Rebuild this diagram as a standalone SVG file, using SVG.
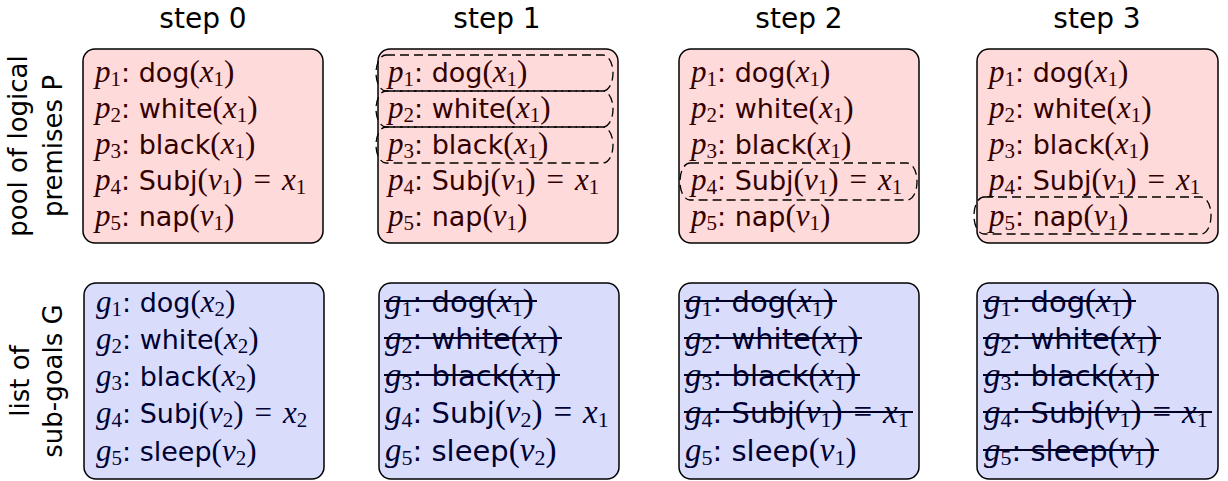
<svg xmlns="http://www.w3.org/2000/svg" width="1228" height="481" viewBox="0 0 1228 481">
  <style>
    .hdr { font-family: "DejaVu Sans", sans-serif; font-size: 28px; fill: #000; text-anchor: middle; }
    .side { font-family: "DejaVu Sans", sans-serif; font-size: 26px; fill: #000; text-anchor: middle; }
    .pbox { fill: #ffdada; stroke: #000; stroke-width: 1.5; }
    .gbox { fill: #d9ddfb; stroke: #000; stroke-width: 1.5; }
    .ptxt { fill: #330000; }
    .gtxt { fill: #000033; }
    .sf { font-family: "DejaVu Sans", sans-serif; font-size: 27px; }
    .mi { font-family: "Liberation Serif", serif; font-style: italic; font-size: 31px; }
    .rm { font-family: "Liberation Serif", serif; font-size: 31px; }
    .sb { font-family: "Liberation Serif", serif; font-size: 21px; }
    .big .sf { font-size: 29px; }
    .big .mi, .big .rm { font-size: 33px; }
    .big .sb { font-size: 22px; }
    .sel { fill: none; stroke: #000; stroke-width: 1.3; stroke-dasharray: 9 5; }
    .strike { stroke: #000022; stroke-width: 1.8; }
  </style>

  <!-- column headers -->
  <g id="headers">
    <text class="hdr" x="203" y="28">step 0</text>
    <text class="hdr" x="497" y="28">step 1</text>
    <text class="hdr" x="799" y="28">step 2</text>
    <text class="hdr" x="1097" y="28">step 3</text>
  </g>

  <!-- row labels -->
  <g id="row-labels">
    <text class="side" transform="translate(27,146) rotate(-90)">pool of logical</text>
    <text class="side" transform="translate(62,146) rotate(-90)">premises P</text>
    <text class="side" transform="translate(29,381) rotate(-90)">list of</text>
    <text class="side" transform="translate(62,381) rotate(-90)">sub-goals G</text>
  </g>

  <!-- premises, step 0 -->
  <g id="premises-0" transform="translate(83,49)">
    <rect class="pbox" x="0" y="0" width="240" height="194" rx="12"/>
    <g class="ptxt">
      <text x="12" y="33"><tspan class="mi">p</tspan><tspan class="sb" dy="4">1</tspan><tspan class="sf" dy="-4">: dog</tspan><tspan class="rm">(</tspan><tspan class="mi">x</tspan><tspan class="sb" dy="4">1</tspan><tspan class="rm" dy="-4">)</tspan></text>
      <text x="12" y="69"><tspan class="mi">p</tspan><tspan class="sb" dy="4">2</tspan><tspan class="sf" dy="-4">: white</tspan><tspan class="rm">(</tspan><tspan class="mi">x</tspan><tspan class="sb" dy="4">1</tspan><tspan class="rm" dy="-4">)</tspan></text>
      <text x="12" y="105"><tspan class="mi">p</tspan><tspan class="sb" dy="4">3</tspan><tspan class="sf" dy="-4">: black</tspan><tspan class="rm">(</tspan><tspan class="mi">x</tspan><tspan class="sb" dy="4">1</tspan><tspan class="rm" dy="-4">)</tspan></text>
      <text x="12" y="141"><tspan class="mi">p</tspan><tspan class="sb" dy="4">4</tspan><tspan class="sf" dy="-4">: Subj</tspan><tspan class="rm">(</tspan><tspan class="mi">v</tspan><tspan class="sb" dy="4">1</tspan><tspan class="rm" dy="-4">)</tspan><tspan class="rm" dx="11">=</tspan><tspan class="mi" dx="11">x</tspan><tspan class="sb" dy="4">1</tspan></text>
      <text x="12" y="177"><tspan class="mi">p</tspan><tspan class="sb" dy="4">5</tspan><tspan class="sf" dy="-4">: nap</tspan><tspan class="rm">(</tspan><tspan class="mi">v</tspan><tspan class="sb" dy="4">1</tspan><tspan class="rm" dy="-4">)</tspan></text>
    </g>
  </g>

  <!-- premises, step 1 -->
  <g id="premises-1" transform="translate(378,49)">
    <rect class="pbox" x="0" y="0" width="240" height="194" rx="12"/>
    <g class="ptxt">
      <text x="10" y="33"><tspan class="mi">p</tspan><tspan class="sb" dy="4">1</tspan><tspan class="sf" dy="-4">: dog</tspan><tspan class="rm">(</tspan><tspan class="mi">x</tspan><tspan class="sb" dy="4">1</tspan><tspan class="rm" dy="-4">)</tspan></text>
      <text x="10" y="69"><tspan class="mi">p</tspan><tspan class="sb" dy="4">2</tspan><tspan class="sf" dy="-4">: white</tspan><tspan class="rm">(</tspan><tspan class="mi">x</tspan><tspan class="sb" dy="4">1</tspan><tspan class="rm" dy="-4">)</tspan></text>
      <text x="10" y="105"><tspan class="mi">p</tspan><tspan class="sb" dy="4">3</tspan><tspan class="sf" dy="-4">: black</tspan><tspan class="rm">(</tspan><tspan class="mi">x</tspan><tspan class="sb" dy="4">1</tspan><tspan class="rm" dy="-4">)</tspan></text>
      <text x="10" y="141"><tspan class="mi">p</tspan><tspan class="sb" dy="4">4</tspan><tspan class="sf" dy="-4">: Subj</tspan><tspan class="rm">(</tspan><tspan class="mi">v</tspan><tspan class="sb" dy="4">1</tspan><tspan class="rm" dy="-4">)</tspan><tspan class="rm" dx="11">=</tspan><tspan class="mi" dx="11">x</tspan><tspan class="sb" dy="4">1</tspan></text>
      <text x="10" y="177"><tspan class="mi">p</tspan><tspan class="sb" dy="4">5</tspan><tspan class="sf" dy="-4">: nap</tspan><tspan class="rm">(</tspan><tspan class="mi">v</tspan><tspan class="sb" dy="4">1</tspan><tspan class="rm" dy="-4">)</tspan></text>
    </g>
    <rect class="sel" x="-2" y="6" width="237" height="36" rx="10" ry="18"/>
    <rect class="sel" x="-2" y="42" width="237" height="36" rx="10" ry="18"/>
    <rect class="sel" x="-2" y="78" width="237" height="36" rx="10" ry="18"/>
  </g>

  <!-- premises, step 2 -->
  <g id="premises-2" transform="translate(679,49)">
    <rect class="pbox" x="0" y="0" width="240" height="194" rx="12"/>
    <g class="ptxt">
      <text x="12" y="33"><tspan class="mi">p</tspan><tspan class="sb" dy="4">1</tspan><tspan class="sf" dy="-4">: dog</tspan><tspan class="rm">(</tspan><tspan class="mi">x</tspan><tspan class="sb" dy="4">1</tspan><tspan class="rm" dy="-4">)</tspan></text>
      <text x="12" y="69"><tspan class="mi">p</tspan><tspan class="sb" dy="4">2</tspan><tspan class="sf" dy="-4">: white</tspan><tspan class="rm">(</tspan><tspan class="mi">x</tspan><tspan class="sb" dy="4">1</tspan><tspan class="rm" dy="-4">)</tspan></text>
      <text x="12" y="105"><tspan class="mi">p</tspan><tspan class="sb" dy="4">3</tspan><tspan class="sf" dy="-4">: black</tspan><tspan class="rm">(</tspan><tspan class="mi">x</tspan><tspan class="sb" dy="4">1</tspan><tspan class="rm" dy="-4">)</tspan></text>
      <text x="12" y="141"><tspan class="mi">p</tspan><tspan class="sb" dy="4">4</tspan><tspan class="sf" dy="-4">: Subj</tspan><tspan class="rm">(</tspan><tspan class="mi">v</tspan><tspan class="sb" dy="4">1</tspan><tspan class="rm" dy="-4">)</tspan><tspan class="rm" dx="11">=</tspan><tspan class="mi" dx="11">x</tspan><tspan class="sb" dy="4">1</tspan></text>
      <text x="12" y="177"><tspan class="mi">p</tspan><tspan class="sb" dy="4">5</tspan><tspan class="sf" dy="-4">: nap</tspan><tspan class="rm">(</tspan><tspan class="mi">v</tspan><tspan class="sb" dy="4">1</tspan><tspan class="rm" dy="-4">)</tspan></text>
    </g>
    <rect class="sel" x="1" y="114" width="237" height="37" rx="10" ry="18"/>
  </g>

  <!-- premises, step 3 -->
  <g id="premises-3" transform="translate(977,49)">
    <rect class="pbox" x="0" y="0" width="241" height="194" rx="12"/>
    <g class="ptxt">
      <text x="12" y="33"><tspan class="mi">p</tspan><tspan class="sb" dy="4">1</tspan><tspan class="sf" dy="-4">: dog</tspan><tspan class="rm">(</tspan><tspan class="mi">x</tspan><tspan class="sb" dy="4">1</tspan><tspan class="rm" dy="-4">)</tspan></text>
      <text x="12" y="69"><tspan class="mi">p</tspan><tspan class="sb" dy="4">2</tspan><tspan class="sf" dy="-4">: white</tspan><tspan class="rm">(</tspan><tspan class="mi">x</tspan><tspan class="sb" dy="4">1</tspan><tspan class="rm" dy="-4">)</tspan></text>
      <text x="12" y="105"><tspan class="mi">p</tspan><tspan class="sb" dy="4">3</tspan><tspan class="sf" dy="-4">: black</tspan><tspan class="rm">(</tspan><tspan class="mi">x</tspan><tspan class="sb" dy="4">1</tspan><tspan class="rm" dy="-4">)</tspan></text>
      <text x="12" y="141"><tspan class="mi">p</tspan><tspan class="sb" dy="4">4</tspan><tspan class="sf" dy="-4">: Subj</tspan><tspan class="rm">(</tspan><tspan class="mi">v</tspan><tspan class="sb" dy="4">1</tspan><tspan class="rm" dy="-4">)</tspan><tspan class="rm" dx="11">=</tspan><tspan class="mi" dx="11">x</tspan><tspan class="sb" dy="4">1</tspan></text>
      <text x="12" y="177"><tspan class="mi">p</tspan><tspan class="sb" dy="4">5</tspan><tspan class="sf" dy="-4">: nap</tspan><tspan class="rm">(</tspan><tspan class="mi">v</tspan><tspan class="sb" dy="4">1</tspan><tspan class="rm" dy="-4">)</tspan></text>
    </g>
    <rect class="sel" x="-3" y="148" width="237" height="37" rx="10" ry="18"/>
  </g>

  <!-- sub-goals, step 0 -->
  <g id="goals-0" transform="translate(84,283)">
    <rect class="gbox" x="0" y="0" width="240" height="196" rx="12"/>
    <g class="gtxt">
      <text x="12" y="29"><tspan class="mi">g</tspan><tspan class="sb" dy="4">1</tspan><tspan class="sf" dy="-4">: dog</tspan><tspan class="rm">(</tspan><tspan class="mi">x</tspan><tspan class="sb" dy="4">2</tspan><tspan class="rm" dy="-4">)</tspan></text>
      <text x="12" y="66"><tspan class="mi">g</tspan><tspan class="sb" dy="4">2</tspan><tspan class="sf" dy="-4">: white</tspan><tspan class="rm">(</tspan><tspan class="mi">x</tspan><tspan class="sb" dy="4">2</tspan><tspan class="rm" dy="-4">)</tspan></text>
      <text x="12" y="103"><tspan class="mi">g</tspan><tspan class="sb" dy="4">3</tspan><tspan class="sf" dy="-4">: black</tspan><tspan class="rm">(</tspan><tspan class="mi">x</tspan><tspan class="sb" dy="4">2</tspan><tspan class="rm" dy="-4">)</tspan></text>
      <text x="12" y="140"><tspan class="mi">g</tspan><tspan class="sb" dy="4">4</tspan><tspan class="sf" dy="-4">: Subj</tspan><tspan class="rm">(</tspan><tspan class="mi">v</tspan><tspan class="sb" dy="4">2</tspan><tspan class="rm" dy="-4">)</tspan><tspan class="rm" dx="11">=</tspan><tspan class="mi" dx="11">x</tspan><tspan class="sb" dy="4">2</tspan></text>
      <text x="12" y="178"><tspan class="mi">g</tspan><tspan class="sb" dy="4">5</tspan><tspan class="sf" dy="-4">: sleep</tspan><tspan class="rm">(</tspan><tspan class="mi">v</tspan><tspan class="sb" dy="4">2</tspan><tspan class="rm" dy="-4">)</tspan></text>
    </g>
  </g>

  <!-- sub-goals, step 1 -->
  <g id="goals-1" transform="translate(379,283)">
    <rect class="gbox" x="0" y="0" width="240" height="196" rx="12"/>
    <g class="gtxt big">
      <text x="6" y="29"><tspan class="mi">g</tspan><tspan class="sb" dy="4">1</tspan><tspan class="sf" dy="-4">: dog</tspan><tspan class="rm">(</tspan><tspan class="mi">x</tspan><tspan class="sb" dy="4">1</tspan><tspan class="rm" dy="-4">)</tspan></text>
      <text x="6" y="66"><tspan class="mi">g</tspan><tspan class="sb" dy="4">2</tspan><tspan class="sf" dy="-4">: white</tspan><tspan class="rm">(</tspan><tspan class="mi">x</tspan><tspan class="sb" dy="4">1</tspan><tspan class="rm" dy="-4">)</tspan></text>
      <text x="6" y="103"><tspan class="mi">g</tspan><tspan class="sb" dy="4">3</tspan><tspan class="sf" dy="-4">: black</tspan><tspan class="rm">(</tspan><tspan class="mi">x</tspan><tspan class="sb" dy="4">1</tspan><tspan class="rm" dy="-4">)</tspan></text>
      <text x="6" y="140"><tspan class="mi">g</tspan><tspan class="sb" dy="4">4</tspan><tspan class="sf" dy="-4">: Subj</tspan><tspan class="rm">(</tspan><tspan class="mi">v</tspan><tspan class="sb" dy="4">2</tspan><tspan class="rm" dy="-4">)</tspan><tspan class="rm" dx="11">=</tspan><tspan class="mi" dx="11">x</tspan><tspan class="sb" dy="4">1</tspan></text>
      <text x="6" y="178"><tspan class="mi">g</tspan><tspan class="sb" dy="4">5</tspan><tspan class="sf" dy="-4">: sleep</tspan><tspan class="rm">(</tspan><tspan class="mi">v</tspan><tspan class="sb" dy="4">2</tspan><tspan class="rm" dy="-4">)</tspan></text>
    </g>
    <g class="strike">
      <line x1="5" y1="18" x2="158" y2="18"/>
      <line x1="5" y1="55" x2="183" y2="55"/>
      <line x1="5" y1="92" x2="181" y2="92"/>
    </g>
  </g>

  <!-- sub-goals, step 2 -->
  <g id="goals-2" transform="translate(679,283)">
    <rect class="gbox" x="0" y="0" width="240" height="196" rx="12"/>
    <g class="gtxt big">
      <text x="6" y="29"><tspan class="mi">g</tspan><tspan class="sb" dy="4">1</tspan><tspan class="sf" dy="-4">: dog</tspan><tspan class="rm">(</tspan><tspan class="mi">x</tspan><tspan class="sb" dy="4">1</tspan><tspan class="rm" dy="-4">)</tspan></text>
      <text x="6" y="66"><tspan class="mi">g</tspan><tspan class="sb" dy="4">2</tspan><tspan class="sf" dy="-4">: white</tspan><tspan class="rm">(</tspan><tspan class="mi">x</tspan><tspan class="sb" dy="4">1</tspan><tspan class="rm" dy="-4">)</tspan></text>
      <text x="6" y="103"><tspan class="mi">g</tspan><tspan class="sb" dy="4">3</tspan><tspan class="sf" dy="-4">: black</tspan><tspan class="rm">(</tspan><tspan class="mi">x</tspan><tspan class="sb" dy="4">1</tspan><tspan class="rm" dy="-4">)</tspan></text>
      <text x="6" y="140"><tspan class="mi">g</tspan><tspan class="sb" dy="4">4</tspan><tspan class="sf" dy="-4">: Subj</tspan><tspan class="rm">(</tspan><tspan class="mi">v</tspan><tspan class="sb" dy="4">1</tspan><tspan class="rm" dy="-4">)</tspan><tspan class="rm" dx="11">=</tspan><tspan class="mi" dx="11">x</tspan><tspan class="sb" dy="4">1</tspan></text>
      <text x="6" y="178"><tspan class="mi">g</tspan><tspan class="sb" dy="4">5</tspan><tspan class="sf" dy="-4">: sleep</tspan><tspan class="rm">(</tspan><tspan class="mi">v</tspan><tspan class="sb" dy="4">1</tspan><tspan class="rm" dy="-4">)</tspan></text>
    </g>
    <g class="strike">
      <line x1="5" y1="18" x2="158" y2="18"/>
      <line x1="5" y1="55" x2="183" y2="55"/>
      <line x1="5" y1="92" x2="181" y2="92"/>
      <line x1="5" y1="129" x2="234" y2="129"/>
    </g>
  </g>

  <!-- sub-goals, step 3 -->
  <g id="goals-3" transform="translate(977,283)">
    <rect class="gbox" x="0" y="0" width="241" height="196" rx="12"/>
    <g class="gtxt big">
      <text x="7" y="29"><tspan class="mi">g</tspan><tspan class="sb" dy="4">1</tspan><tspan class="sf" dy="-4">: dog</tspan><tspan class="rm">(</tspan><tspan class="mi">x</tspan><tspan class="sb" dy="4">1</tspan><tspan class="rm" dy="-4">)</tspan></text>
      <text x="7" y="66"><tspan class="mi">g</tspan><tspan class="sb" dy="4">2</tspan><tspan class="sf" dy="-4">: white</tspan><tspan class="rm">(</tspan><tspan class="mi">x</tspan><tspan class="sb" dy="4">1</tspan><tspan class="rm" dy="-4">)</tspan></text>
      <text x="7" y="103"><tspan class="mi">g</tspan><tspan class="sb" dy="4">3</tspan><tspan class="sf" dy="-4">: black</tspan><tspan class="rm">(</tspan><tspan class="mi">x</tspan><tspan class="sb" dy="4">1</tspan><tspan class="rm" dy="-4">)</tspan></text>
      <text x="7" y="140"><tspan class="mi">g</tspan><tspan class="sb" dy="4">4</tspan><tspan class="sf" dy="-4">: Subj</tspan><tspan class="rm">(</tspan><tspan class="mi">v</tspan><tspan class="sb" dy="4">1</tspan><tspan class="rm" dy="-4">)</tspan><tspan class="rm" dx="11">=</tspan><tspan class="mi" dx="11">x</tspan><tspan class="sb" dy="4">1</tspan></text>
      <text x="7" y="178"><tspan class="mi">g</tspan><tspan class="sb" dy="4">5</tspan><tspan class="sf" dy="-4">: sleep</tspan><tspan class="rm">(</tspan><tspan class="mi">v</tspan><tspan class="sb" dy="4">1</tspan><tspan class="rm" dy="-4">)</tspan></text>
    </g>
    <g class="strike">
      <line x1="6" y1="18" x2="159" y2="18"/>
      <line x1="6" y1="55" x2="184" y2="55"/>
      <line x1="6" y1="92" x2="182" y2="92"/>
      <line x1="6" y1="129" x2="235" y2="129"/>
      <line x1="6" y1="167" x2="182" y2="167"/>
    </g>
  </g>

  <!-- no connectors in this figure -->
  <g id="connectors"/>
</svg>
